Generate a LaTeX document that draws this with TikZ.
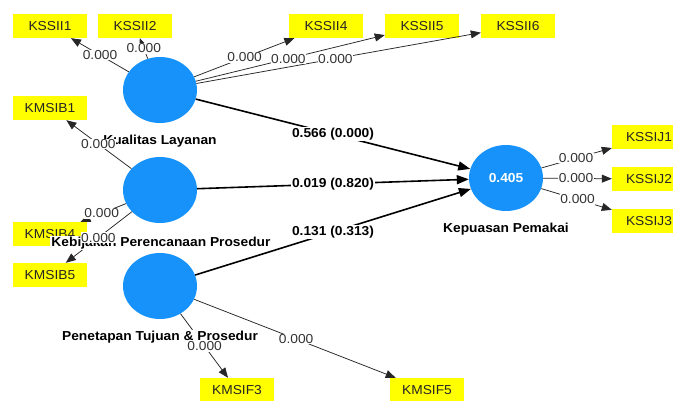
\documentclass[tikz,border=0pt]{standalone}
\usepackage{fontspec}
\setmainfont[FakeStretch=1.06]{Liberation Sans}
\usetikzlibrary{shapes.geometric,arrows.meta}
\definecolor{lvblue}{RGB}{22,146,250}
\definecolor{mvyellow}{RGB}{255,255,0}
\newcommand{\fsz}{\fontsize{13}{14}\selectfont}
\begin{document}
\begin{tikzpicture}[x=1pt,y=-1pt,
  lv/.style={ellipse,fill=lvblue,minimum width=74pt,minimum height=66pt,inner sep=0pt,text=white,font=\fsz\bfseries},
  mv/.style={rectangle,fill=mvyellow,minimum width=74pt,minimum height=24pt,inner sep=0pt,font=\fsz,text=black!85},
  lvname/.style={fill=white,inner sep=1pt,font=\fsz\bfseries},
  lbl/.style={fill=white,inner sep=0.6pt,font=\fsz,text=black!80},
  slbl/.style={fill=white,inner sep=0.6pt,font=\fsz\bfseries},
  ld/.style={draw=black!85,line width=0.75pt,-{Triangle[length=10pt,width=8pt]}},
  st/.style={draw=black,line width=1.6pt,-{Triangle[length=12pt,width=9pt]}}]
\useasboundingbox (0,0) rectangle (673,401);
\clip (0,0) rectangle (673,401);
\fill[white] (0,0) rectangle (673,401);
% indicator boxes
\node[mv] (S1) at (50,26) {KSSII1};
\node[mv] (S2) at (135,26) {KSSII2};
\node[mv] (S4) at (326,26) {KSSII4};
\node[mv] (S5) at (422,26) {KSSII5};
\node[mv] (S6) at (518,26) {KSSII6};
\node[mv] (B1) at (50,108) {KMSIB1};
\node[mv] (B4) at (50,234) {KMSIB4};
\node[mv] (B5) at (50,275) {KMSIB5};
\node[mv] (J1) at (649,137.5) {KSSIJ1};
\node[mv] (J2) at (649,179) {KSSIJ2};
\node[mv] (J3) at (649,221) {KSSIJ3};
\node[mv] (F3) at (237,390) {KMSIF3};
\node[mv] (F5) at (427,390) {KMSIF5};
% latent variables
\node[lv] (KL) at (160,90) {};
\node[lv] (KPP) at (160,190) {};
\node[lv] (PT) at (160,286) {};
\node[lv] (KP) at (506,178) {0.405};
% loadings
\draw[ld] (KL) -- (S1);
\draw[ld] (KL) -- (S2);
\draw[ld] (KL) -- (S4);
\draw[ld] (KL) -- (S5);
\draw[ld] (KL) -- (S6);
\draw[ld] (KPP) -- (B1);
\draw[ld] (KPP) -- (B4);
\draw[ld] (KPP) -- (B5);
\draw[ld] (PT) -- (F3);
\draw[ld] (PT) -- (F5);
\draw[ld] (KP) -- (J1);
\draw[ld] (KP) -- (J2);
\draw[ld] (KP) -- (J3);
% structural paths
\draw[st] (KL) -- (KP);
\draw[st] (KPP) -- (KP);
\draw[st] (PT) -- (KP);
% latent names
\node[lvname] (nKL) at (160,141) {Kualitas Layanan};
\node[lvname] (nKPP) at (161,243) {Kebijakan Perencanaan Prosedur};
\node[lvname] (nPT) at (160,337) {Penetapan Tujuan \& Prosedur};
\node[lvname] (nKP) at (506,229) {Kepuasan Pemakai};
% structural labels
\path (KL.center) -- (KP.center) node[slbl,pos=0.5] (c1) {0.566 (0.000)};
\path (KPP.center) -- (KP.center) node[slbl,pos=0.5] (c2) {0.019 (0.820)};
\path (PT.center) -- (KP.center) node[slbl,pos=0.5] (c3) {0.131 (0.313)};
% loading labels
\path (KL.center) -- (S1.center) node[lbl,pos=0.545] (l1) {0.000};
\path (KL.center) -- (S2.center) node[lbl,pos=0.65] (l2) {0.000};
\path (KL.center) -- (S4.center) node[lbl,pos=0.51] (l4) {0.000};
\path (KL.center) -- (S5.center) node[lbl,pos=0.49] (l5) {0.000};
\path (KL.center) -- (S6.center) node[lbl,pos=0.49] (l6) {0.000};
\path (KPP.center) -- (B1.center) node[lbl,pos=0.56] (lb1) {0.000};
\path (KPP.center) -- (B4.center) node[lbl,pos=0.53] (lb4) {0.000};
\path (KPP.center) -- (B5.center) node[lbl,pos=0.56] (lb5) {0.000};
\path (PT.center) -- (F3.center) node[lbl,pos=0.58] (lf3) {0.000};
\path (PT.center) -- (F5.center) node[lbl,pos=0.51] (lf5) {0.000};
\path (KP.center) -- (J1.center) node[lbl,pos=0.49] (lj1) {0.000};
\path (KP.center) -- (J2.center) node[lbl,pos=0.49] (lj2) {0.000};
\path (KP.center) -- (J3.center) node[lbl,pos=0.5] (lj3) {0.000};
\end{tikzpicture}
\end{document}
